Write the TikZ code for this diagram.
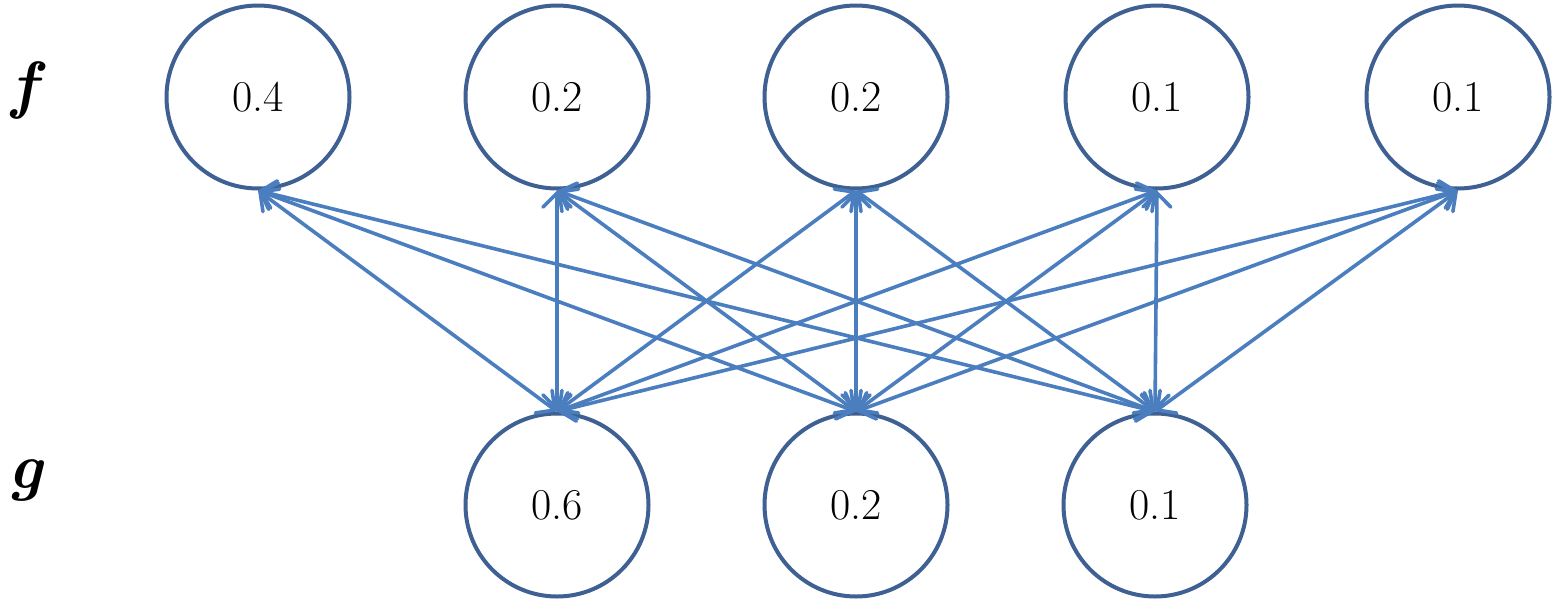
\documentclass[tikz,border=0pt]{standalone}
\usetikzlibrary{arrows.meta}
\definecolor{circ}{RGB}{62,96,146}
\definecolor{arr}{RGB}{74,126,191}
\begin{document}
\begin{tikzpicture}[x=1pt,y=-1pt,
  nd/.style={circle,draw=circ,line width=4pt,minimum size=183pt,inner sep=0pt,font=\fontsize{44}{48}\selectfont},
  lab/.style={font=\fontsize{64}{70}\selectfont\bfseries\itshape},
  lk/.style={draw=arr,line width=3.6pt,{Straight Barb[length=14pt,width=28pt,line cap=round]}-{Straight Barb[length=14pt,width=28pt,line cap=round]}}]
\useasboundingbox (0,0) rectangle (1554,608);
\foreach \n/\x/\v in {1/258/0.4,2/557/0.2,3/856/0.2,4/1157/0.1,5/1458/0.1}
  \node[nd] (t\n) at (\x,97) {\v};
\foreach \n/\x/\v in {1/557/0.6,2/856/0.2,3/1155/0.1}
  \node[nd] (b\n) at (\x,505) {\v};
\node[lab] (f) at (24,90) {f};
\node[lab] (g) at (26,480) {g};
\foreach \i in {1,...,5}
  \foreach \j in {1,2,3}
    \draw[lk] (t\i.south) -- (b\j.north);
\end{tikzpicture}
\end{document}
